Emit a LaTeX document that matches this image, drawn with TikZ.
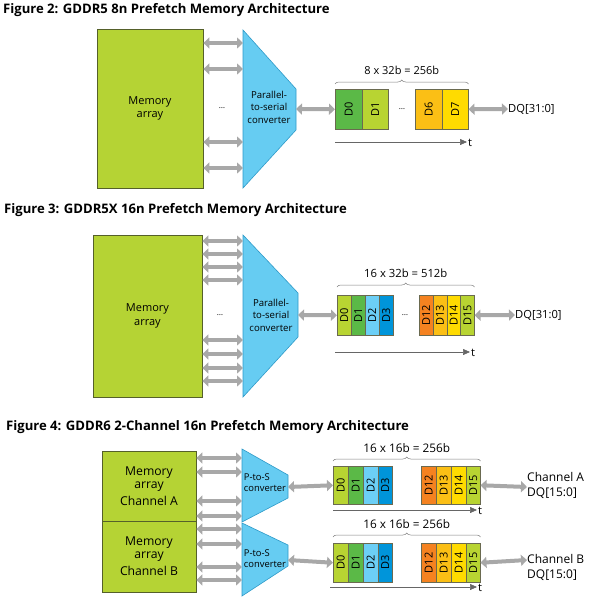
\documentclass[tikz,border=0pt]{standalone}
\usepackage{fontspec}
\setmainfont{Open Sans}
\usetikzlibrary{arrows.meta,decorations.pathreplacing}
\definecolor{memgreen}{HTML}{B5D334}
\definecolor{memedge}{HTML}{55602A}
\definecolor{convblue}{HTML}{66CCF2}
\definecolor{convedge}{HTML}{2E9AC8}
\definecolor{cdgreen}{HTML}{5BB947}
\definecolor{clime}{HTML}{B8D432}
\definecolor{clblue}{HTML}{6CCFF6}
\definecolor{cblue}{HTML}{0095DA}
\definecolor{corange}{HTML}{F58220}
\definecolor{camber}{HTML}{FBBF15}
\definecolor{cyellow}{HTML}{FFDB00}
\definecolor{agray}{HTML}{A8A8A8}
\definecolor{bedge}{HTML}{6A6A50}
\tikzset{
  title/.style={anchor=west,font=\bfseries\fontsize{13.1}{15}\selectfont,inner sep=0},
  membox/.style={draw=memedge,line width=0.8pt,fill=memgreen,inner sep=0,align=center,font=\fontsize{11}{13.5}\selectfont},
  memboxb/.style={membox,font=\fontsize{12.2}{13}\selectfont},
  conv/.style={draw=convedge,line width=0.6pt,fill=convblue},
  convtext/.style={align=center,font=\fontsize{9.6}{12.5}\selectfont,inner sep=0},
  pstext/.style={align=left,font=\fontsize{9.4}{11}\selectfont,inner sep=0},
  garrow/.style={draw=agray,line width=4pt,{Triangle[width=11pt,length=6pt]}-{Triangle[width=11pt,length=6pt]}},
  dbox/.style={draw=bedge,line width=0.5pt,inner sep=0,anchor=north west,font=\fontsize{11}{11}\selectfont},
  tarrow/.style={draw=gray!80!black,line width=0.6pt,-{Triangle[width=6pt,length=7pt]}},
  brc/.style={draw=gray,line width=0.5pt,decorate,decoration={brace,amplitude=4pt}},
  lbl/.style={font=\fontsize{11.2}{12}\selectfont,inner sep=0},
  blbl/.style={font=\fontsize{11.3}{13}\selectfont,inner sep=0},
  chlbl/.style={anchor=west,align=left,inner sep=0,font=\fontsize{12}{15}\selectfont},
  dots/.style={font=\fontsize{8}{10}\selectfont,inner sep=0},
}
\newcommand{\dcell}[6]{% name, x y, height, width, color, label
  \node[dbox,fill=#5,minimum width=#4,minimum height=#3] (#1) at (#2) {\rotatebox{90}{#6}};}
\begin{document}
\begin{tikzpicture}[x=1pt,y=-1pt]
\useasboundingbox (0,0) rectangle (591,600);
% ================= Figure 2 =================
\node[title] (t2) at (3,10) {Figure 2: GDDR5 8n Prefetch Memory Architecture};
\node[membox,minimum width=106pt,minimum height=159pt] (m2) at (150,108.5) {Memory\\array};
\draw[conv] (243,30) -- (296,89) -- (296,130) -- (243,188) -- cycle;
\node[convtext] (c2) at (269,107) {Parallel-\\to-serial\\converter};
\coordinate (c2w) at (243,108);
\foreach \yy in {43,69,142,168}{
  \draw[garrow] (m2.east |- 0,\yy) -- (c2w |- 0,\yy);}
\node[dots] (d2a) at (222,108) {\dots};
\coordinate (c2e) at (296,109);
\dcell{a0}{335,89}{40pt}{27pt}{cdgreen}{D0}
\dcell{a1}{362,89}{40pt}{26pt}{clime}{D1}
\node[dots] (d2b) at (402,109) {\dots};
\dcell{a6}{415,89}{40pt}{27pt}{camber}{D6}
\dcell{a7}{442,89}{40pt}{26pt}{cyellow}{D7}
\draw[garrow] (c2e) -- (a0.west);
\node[lbl,anchor=west] (dq2) at (508,109) {DQ[31:0]};
\draw[garrow] (a7.east) -- (dq2.west);
\draw[brc] (a0.north west |- 0,84) -- (a7.north east |- 0,84) node[midway,above=9pt,blbl,font=\fontsize{11}{13}\selectfont] (b2) {8 x 32b = 256b};
\coordinate (s2) at (335,142);
\coordinate (e2) at (467,142);
\draw[tarrow] (s2) -- (e2);
\node[lbl,anchor=west] (tt2) at (468,142.5) {t};
% ================= Figure 3 =================
\node[title] (t3) at (4,210) {Figure 3: GDDR5X 16n Prefetch Memory Architecture};
\node[membox,minimum width=109pt,minimum height=162pt] (m3) at (147.5,316) {Memory\\array};
\draw[conv] (243,235) -- (298,293) -- (298,337) -- (243,397) -- cycle;
\node[convtext] (c3) at (271,315) {Parallel-\\to-serial\\converter};
\coordinate (c3w) at (243,315);
\foreach \yy in {241,254,267,280,340,354,368,381}{
  \draw[garrow] (m3.east |- 0,\yy) -- (c3w |- 0,\yy);}
\node[dots] (d3a) at (220,315) {\dots};
\coordinate (c3e) at (298,315);
\dcell{b0}{337,295}{40pt}{14pt}{clime}{D0}
\dcell{b1}{351,295}{40pt}{14pt}{cdgreen}{D1}
\dcell{b2}{365,295}{40pt}{14pt}{clblue}{D2}
\dcell{b3}{379,295}{40pt}{14pt}{cblue}{D3}
\node[dots] (d3b) at (405,315) {\dots};
\dcell{b12}{419,295}{40pt}{13.75pt}{corange}{D12}
\dcell{b13}{432.75,295}{40pt}{13.75pt}{camber}{D13}
\dcell{b14}{446.5,295}{40pt}{13.75pt}{cyellow}{D14}
\dcell{b15}{460.25,295}{40pt}{13.75pt}{clime}{D15}
\draw[garrow] (c3e) -- (b0.west);
\node[lbl,anchor=west] (dq3) at (515,315) {DQ[31:0]};
\draw[garrow] (b15.east) -- (dq3.west);
\draw[brc] (b0.north west |- 0,287) -- (b15.north east |- 0,287) node[midway,above=9pt,blbl] (bb3) {16 x 32b = 512b};
\coordinate (s3) at (335,352);
\coordinate (e3) at (470,352);
\draw[tarrow] (s3) -- (e3);
\node[lbl,anchor=west] (tt3) at (471,352.5) {t};
% ================= Figure 4 =================
\node[title] (t4) at (6,427) {Figure 4: GDDR6 2-Channel 16n Prefetch Memory Architecture};
\node[memboxb,minimum width=94pt,minimum height=70pt] (mA) at (149,486) {Memory\\array\\[4pt]Channel A};
\node[memboxb,minimum width=94pt,minimum height=71pt] (mB) at (149,556.5) {Memory\\array\\[4pt]Channel B};
\draw[conv] (242,449) -- (288,475) -- (288,498) -- (242,522) -- cycle;
\draw[conv] (242,523) -- (288,545) -- (288,566) -- (242,596) -- cycle;
\node[pstext] (cA) at (265,482.5) {P-to-S\\converter};
\node[pstext] (cB) at (265,558.5) {P-to-S\\converter};
\coordinate (cAw) at (242,487);
\foreach \yy in {458,472,501,516,529,544,567,580}{
  \draw[garrow] (mA.east |- 0,\yy) -- (cAw |- 0,\yy);}
\coordinate (cAe) at (288,487);
\coordinate (cBe) at (288,560);
% channel A cells
\dcell{p0}{333,466}{38pt}{15pt}{clime}{D0}
\dcell{p1}{348,466}{38pt}{15pt}{cdgreen}{D1}
\dcell{p2}{363,466}{38pt}{15pt}{clblue}{D2}
\dcell{p3}{378,466}{38pt}{14pt}{cblue}{D3}
\dcell{p12}{421,466}{38pt}{15pt}{corange}{D12}
\dcell{p13}{436,466}{38pt}{15pt}{camber}{D13}
\dcell{p14}{451,466}{38pt}{15pt}{cyellow}{D14}
\dcell{p15}{466,466}{38pt}{14pt}{clime}{D15}
\draw[garrow] (cAe) -- (p0.west);
\node[chlbl] (dqA) at (527,485) {Channel A\\DQ[15:0]};
\draw[garrow] (p15.east) -- (dqA.west |- 0,487);
\draw[brc] (p0.north west |- 0,461) -- (p15.north east |- 0,461) node[midway,above=8pt,blbl,font=\fontsize{11.8}{13}\selectfont] (bA) {16 x 16b = 256b};
\coordinate (sA) at (333,510);
\coordinate (eA) at (477,510);
\draw[tarrow] (sA) -- (eA);
\node[lbl,anchor=west] (ttA) at (478,510.5) {t};
% channel B cells
\dcell{q0}{333,543}{39pt}{15pt}{clime}{D0}
\dcell{q1}{348,543}{39pt}{15pt}{cdgreen}{D1}
\dcell{q2}{363,543}{39pt}{15pt}{clblue}{D2}
\dcell{q3}{378,543}{39pt}{14pt}{cblue}{D3}
\dcell{q12}{421,543}{39pt}{15pt}{corange}{D12}
\dcell{q13}{436,543}{39pt}{15pt}{camber}{D13}
\dcell{q14}{451,543}{39pt}{15pt}{cyellow}{D14}
\dcell{q15}{466,543}{39pt}{14pt}{clime}{D15}
\draw[garrow] (cBe) -- (q0.west);
\node[chlbl] (dqB) at (527,567) {Channel B\\DQ[15:0]};
\draw[garrow] (q15.east) -- (dqB.west |- 0,560);
\draw[brc] (q0.north west |- 0,537) -- (q15.north east |- 0,537) node[midway,above=8pt,blbl,font=\fontsize{11.8}{13}\selectfont] (bB) {16 x 16b = 256b};
\coordinate (sB) at (330,587);
\coordinate (eB) at (477,587);
\draw[tarrow] (sB) -- (eB);
\node[lbl,anchor=west] (ttB) at (478,587.5) {t};
\end{tikzpicture}
\end{document}
